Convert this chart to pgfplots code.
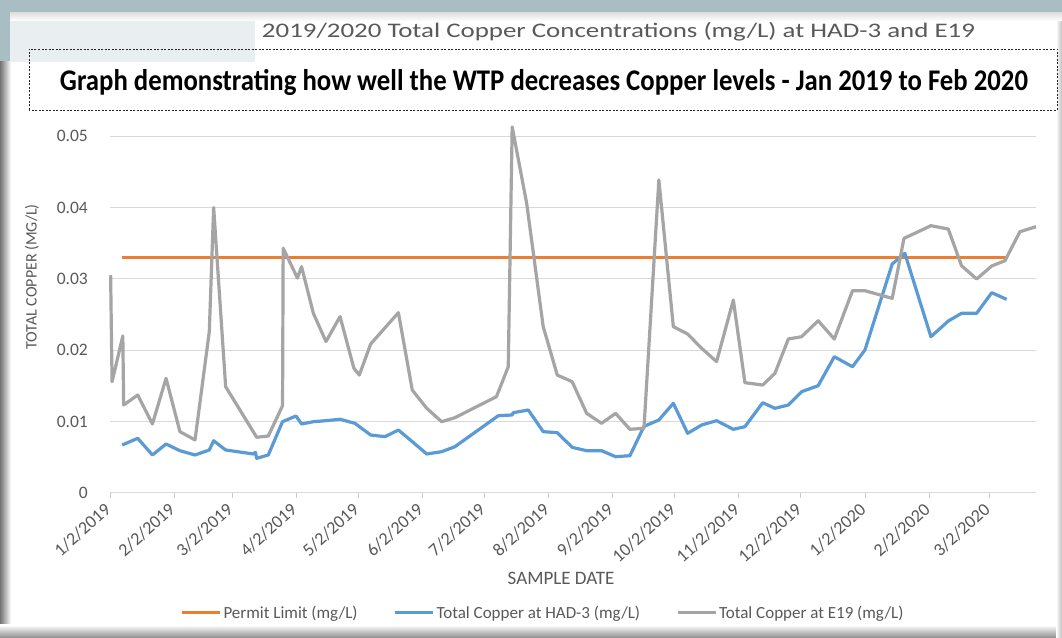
\documentclass[border=0pt]{standalone}
\usepackage{pgfplots}
\pgfplotsset{compat=1.18}
\usepackage{pgfplotstable}
\usepackage{graphicx}
\usepackage{fontspec}
\setmainfont{Carlito}

\definecolor{orng}{HTML}{ED7D31}
\definecolor{blu}{HTML}{5B9BD5}
\definecolor{gry}{HTML}{A5A5A5}
\definecolor{txt}{HTML}{595959}
\definecolor{teal1}{HTML}{A8BEC2}

\pgfplotstableread{
d v
5.9 0.033
433.4 0.033
}\permit

\pgfplotstableread{
d v
5.9 0.00669
13.4 0.00763
20.5 0.00529
27.1 0.00683
33.8 0.00589
41.1 0.00529
48.0 0.00599
50.1 0.00729
55.9 0.00599
69.3 0.00543
70.3 0.00566
70.9 0.00482
76.5 0.00529
83.4 0.00996
89.9 0.01076
92.6 0.00964
98.3 0.00996
104.4 0.01010
111.2 0.01030
118.4 0.00973
126.0 0.00809
132.9 0.00786
139.4 0.00879
146.1 0.00716
153.1 0.00543
160.3 0.00575
166.7 0.00645
187.7 0.01080
194.4 0.01090
194.9 0.01122
202.2 0.01160
209.4 0.00856
216.2 0.00842
223.4 0.00636
230.4 0.00589
237.6 0.00589
244.4 0.00505
251.3 0.00519
258.1 0.00930
265.3 0.01020
272.3 0.01254
279.2 0.00833
286.0 0.00950
293.2 0.01010
301.3 0.00889
306.9 0.00926
315.5 0.01262
321.4 0.01184
327.9 0.01230
334.3 0.01417
342.3 0.01501
350.1 0.01907
358.9 0.01767
364.9 0.02001
378.1 0.03208
384.2 0.03358
396.8 0.02188
405.2 0.02408
411.6 0.02516
418.9 0.02516
426.2 0.02805
433.4 0.02712
}\had

\pgfplotstableread{
d v
0.3 0.0305
1.0 0.01557
6.2 0.02198
6.6 0.0123
13.4 0.0137
20.5 0.00964
27.1 0.01604
33.8 0.00856
41.1 0.0074
48.0 0.0226
50.1 0.0400
55.9 0.01487
70.9 0.00777
76.5 0.00795
83.4 0.0122
83.7 0.0343
90.6 0.0301
92.6 0.0317
98.3 0.02516
104.4 0.0212
111.2 0.0247
117.9 0.01745
120.5 0.0165
126.0 0.02086
139.4 0.02525
146.1 0.0144
153.1 0.01184
160.3 0.00996
166.7 0.01052
186.8 0.01347
192.5 0.01767
194.4 0.0513
201.4 0.0406
209.4 0.02329
216.2 0.0165
223.4 0.01557
230.4 0.01113
237.6 0.00973
244.4 0.01113
251.3 0.00889
258.1 0.00903
265.3 0.04386
272.3 0.02329
279.2 0.02226
286.0 0.02025
293.2 0.01838
301.3 0.02703
306.9 0.01543
315.5 0.0151
321.4 0.01674
327.9 0.02156
334.3 0.02188
342.3 0.02412
350.1 0.02156
358.9 0.02833
364.9 0.02833
378.1 0.02726
383.8 0.03568
389.0 0.03638
396.8 0.03745
405.2 0.03698
411.6 0.03184
418.9 0.02997
426.2 0.0318
432.6 0.03254
439.8 0.0366
447.6 0.03731
}\eni

\begin{document}
\begin{tikzpicture}
\useasboundingbox (0bp,0bp) rectangle (1062bp,638bp);
\begin{scope}[x=1bp,y=1bp]
\fill[white] (0,0) rectangle (1062,638);
\fill[teal1] (0,625) rectangle (1062,638);
\fill[teal1] (0,576) rectangle (10,638);
\fill[teal1!25] (10,576) rectangle (255,625);
\shade[left color=black!55, right color=white] (0,0) rectangle (11,576);
\shade[top color=white, bottom color=black!45] (0,0) rectangle (1062,13);
\shade[left color=white, right color=black!25] (1056,0) rectangle (1062,625);
\shade[top color=black!12, bottom color=white] (10,617) rectangle (1062,625);
\end{scope}

\begin{axis}[
  anchor=south west, at={(110bp,145.3bp)},
  scale only axis, width=926bp, height=374.3bp,
  xmin=0, xmax=447.6, ymin=0, ymax=0.0525,
  axis x line*=bottom, axis y line*=left,
  x axis line style={draw=black!15, line width=1bp, -},
  y axis line style={draw=none},
  scaled y ticks=false, scaled x ticks=false,
  xtick={0,31,59,90,120,151,181,212,243,273,304,334,365,396,425},
  xticklabels={1/2/2019,2/2/2019,3/2/2019,4/2/2019,5/2/2019,6/2/2019,7/2/2019,8/2/2019,9/2/2019,10/2/2019,11/2/2019,12/2/2019,1/2/2020,2/2/2020,3/2/2020},
  ytick={0,0.01,0.02,0.03,0.04,0.05},
  yticklabels={0,0.01,0.02,0.03,0.04,0.05},
  ymajorgrids, grid style={draw=black!15, line width=1bp},
  tick align=outside, major tick length=5bp,
  xtick style={draw=black!20, line width=1bp},
  ytick style={draw=none},
  tick label style={font=\fontsize{17.5bp}{20bp}\selectfont, text=txt},
  yticklabel style={inner sep=0pt, anchor=east, xshift=-17bp},
  xticklabel style={xshift=-2bp, yshift=-9bp, rotate=42, anchor=east, inner sep=0pt, font=\fontsize{18bp}{20bp}\selectfont},
  clip=false,
  legend columns=3,
  legend style={at={(0.4676,-0.3214)}, anchor=center, draw=none, fill=none,
    font=\fontsize{17bp}{20bp}\selectfont, text=txt,
    /tikz/every even column/.append style={column sep=34bp}},
  legend image code/.code={\draw[#1, line width=3bp] (0bp,0bp) -- (38bp,0bp);},
  every axis plot/.append style={line width=3.2bp, line join=round},
]
\addplot[orng] table[x=d, y=v] {\permit};
\addlegendentry{Permit Limit (mg/L)}
\addplot[blu] table[x=d, y=v] {\had};
\addlegendentry{Total Copper at HAD-3 (mg/L)}
\addplot[gry] table[x=d, y=v] {\eni};
\addlegendentry{Total Copper at E19 (mg/L)}
\end{axis}

\node[rotate=90, font=\fontsize{16bp}{19bp}\selectfont, text=txt] at (32bp,361bp) {TOTAL COPPER (MG/L)};
\node[font=\fontsize{19bp}{22bp}\selectfont, text=txt] at (561bp,60bp) {SAMPLE DATE};
\node[anchor=base, text=txt, inner sep=0pt] at (618.5bp,600.7bp) {\resizebox{713bp}{\height}{\fontsize{20.7bp}{24bp}\selectfont 2019/2020 Total Copper Concentrations (mg/L) at HAD-3 and E19}};
\draw[black!85, dash pattern=on 2bp off 1.5bp, line width=0.9bp] (29bp,528bp) rectangle (1057bp,589bp);
\node[anchor=base, inner sep=0pt] at (544bp,547.3bp) {\resizebox{968bp}{\height}{\fontsize{30bp}{36bp}\selectfont\bfseries Graph demonstrating how well the WTP decreases Copper levels - Jan 2019 to Feb 2020}};
\end{tikzpicture}
\end{document}
